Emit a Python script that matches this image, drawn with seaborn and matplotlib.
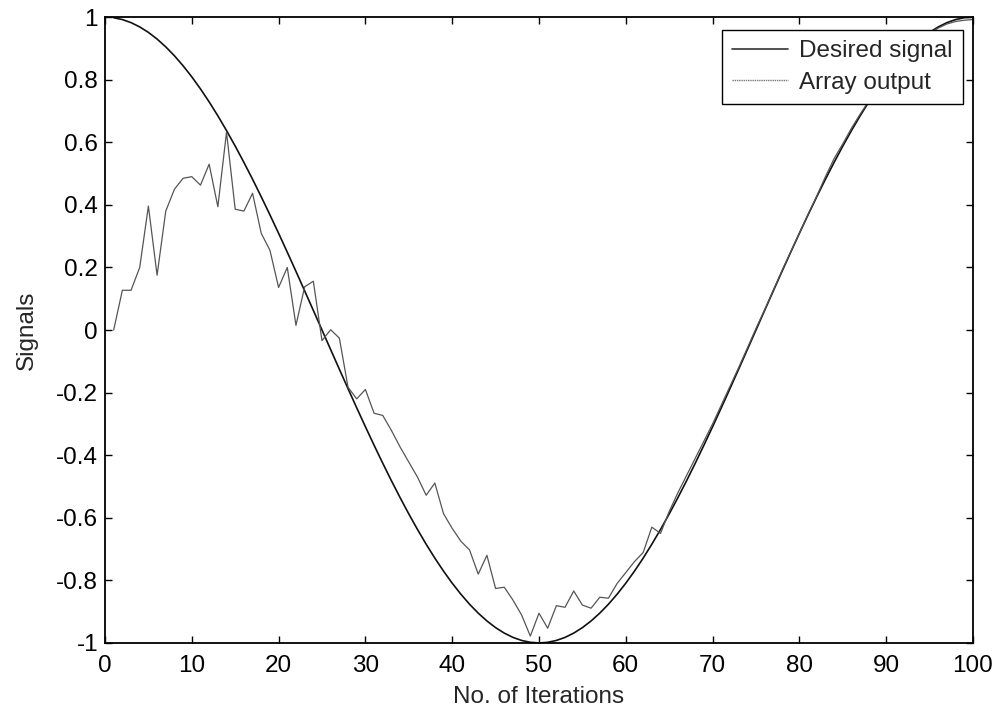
import matplotlib
matplotlib.use("Agg")
import matplotlib.pyplot as plt
from matplotlib.lines import Line2D
import seaborn as sns
import pandas as pd

iterations = list(range(1, 101))

desired_signal = [
    0.9980, 0.9921, 0.9823, 0.9686, 0.9511, 0.9298, 0.9048, 0.8763, 0.8443, 0.8090,
    0.7705, 0.7290, 0.6845, 0.6374, 0.5878, 0.5358, 0.4818, 0.4258, 0.3681, 0.3090,
    0.2487, 0.1874, 0.1253, 0.0628, 0.0000, -0.0628, -0.1253, -0.1874, -0.2487, -0.3090,
    -0.3681, -0.4258, -0.4818, -0.5358, -0.5878, -0.6374, -0.6845, -0.7290, -0.7705, -0.8090,
    -0.8443, -0.8763, -0.9048, -0.9298, -0.9511, -0.9686, -0.9823, -0.9921, -0.9980, -1.0000,
    -0.9980, -0.9921, -0.9823, -0.9686, -0.9511, -0.9298, -0.9048, -0.8763, -0.8443, -0.8090,
    -0.7705, -0.7290, -0.6845, -0.6374, -0.5878, -0.5358, -0.4818, -0.4258, -0.3681, -0.3090,
    -0.2487, -0.1874, -0.1253, -0.0628, 0.0000, 0.0628, 0.1253, 0.1874, 0.2487, 0.3090,
    0.3681, 0.4258, 0.4818, 0.5358, 0.5878, 0.6374, 0.6845, 0.7290, 0.7705, 0.8090,
    0.8443, 0.8763, 0.9048, 0.9298, 0.9511, 0.9686, 0.9823, 0.9921, 0.9980, 1.0000,
]

array_output = [
    0.000, 0.127, 0.127, 0.200, 0.396, 0.175, 0.380, 0.450, 0.485, 0.490,
    0.463, 0.530, 0.394, 0.632, 0.386, 0.380, 0.437, 0.309, 0.255, 0.136,
    0.200, 0.015, 0.138, 0.156, -0.034, 0.001, -0.026, -0.183, -0.220, -0.190,
    -0.266, -0.273, -0.321, -0.374, -0.422, -0.470, -0.528, -0.489, -0.587, -0.634,
    -0.675, -0.703, -0.780, -0.720, -0.826, -0.822, -0.863, -0.911, -0.978, -0.905,
    -0.953, -0.881, -0.886, -0.834, -0.879, -0.889, -0.854, -0.857, -0.810, -0.775,
    -0.740, -0.711, -0.630, -0.650, -0.580, -0.520, -0.465, -0.410, -0.355, -0.300,
    -0.240, -0.180, -0.120, -0.058, 0.005, 0.065, 0.128, 0.190, 0.250, 0.310,
    0.370, 0.428, 0.490, 0.548, 0.595, 0.645, 0.690, 0.732, 0.772, 0.810,
    0.845, 0.876, 0.903, 0.928, 0.948, 0.965, 0.978, 0.986, 0.990, 0.992,
]

x_ticks = list(range(0, 101, 10))
y_ticks = [-1, -0.8, -0.6, -0.4, -0.2, 0, 0.2, 0.4, 0.6, 0.8, 1]
y_tick_labels = ["-1", "-0.8", "-0.6", "-0.4", "-0.2", "0", "0.2", "0.4", "0.6", "0.8", "1"]

df = pd.DataFrame({
    "iteration": iterations * 2,
    "value": desired_signal + array_output,
    "series": ["Desired signal"] * len(iterations) + ["Array output"] * len(iterations),
})

sns.set_style("ticks")
plt.rcParams["font.family"] = ["Liberation Sans", "DejaVu Sans"]

FS = 17.5

fig = plt.figure(figsize=(10, 7.12), dpi=100)
ax = fig.add_axes([0.105, 0.097, 0.868, 0.879])

sns.lineplot(
    data=df, x="iteration", y="value", hue="series", style="series",
    palette={"Desired signal": "#111111", "Array output": "#555555"},
    dashes={"Desired signal": "", "Array output": ""},
    size="series", sizes={"Desired signal": 1.2, "Array output": 0.9},
    ax=ax, legend=False,
)

ax.set_xlim(0, 100)
ax.set_ylim(-1, 1)
ax.set_xticks(x_ticks)
ax.set_yticks(y_ticks)
ax.set_yticklabels(y_tick_labels)
ax.tick_params(direction="in", top=True, right=True, length=5, width=1,
               labelsize=FS, colors="black", pad=5)
ax.tick_params(axis="x", pad=9)
for s in ax.spines.values():
    s.set_visible(True)
    s.set_linewidth(1.3)
    s.set_color("black")

ax.set_xlabel("No. of Iterations", fontsize=FS, labelpad=6)
ax.set_ylabel("Signals", fontsize=FS, labelpad=13)

handles = [
    Line2D([0], [0], color="#333333", lw=1.2),
    Line2D([0], [0], color="#777777", lw=1.0, ls=(0, (1, 0.6))),
]
leg = ax.legend(handles, ["Desired signal", "Array output"], loc="upper right",
                bbox_to_anchor=(0.9885, 0.979), fontsize=FS, frameon=True,
                fancybox=False, edgecolor="black", framealpha=1,
                handlelength=2.3, handletextpad=0.45, borderpad=0.42,
                labelspacing=0.38, borderaxespad=0)
leg.get_frame().set_linewidth(1.0)

fig.savefig("out.png", dpi=100)
